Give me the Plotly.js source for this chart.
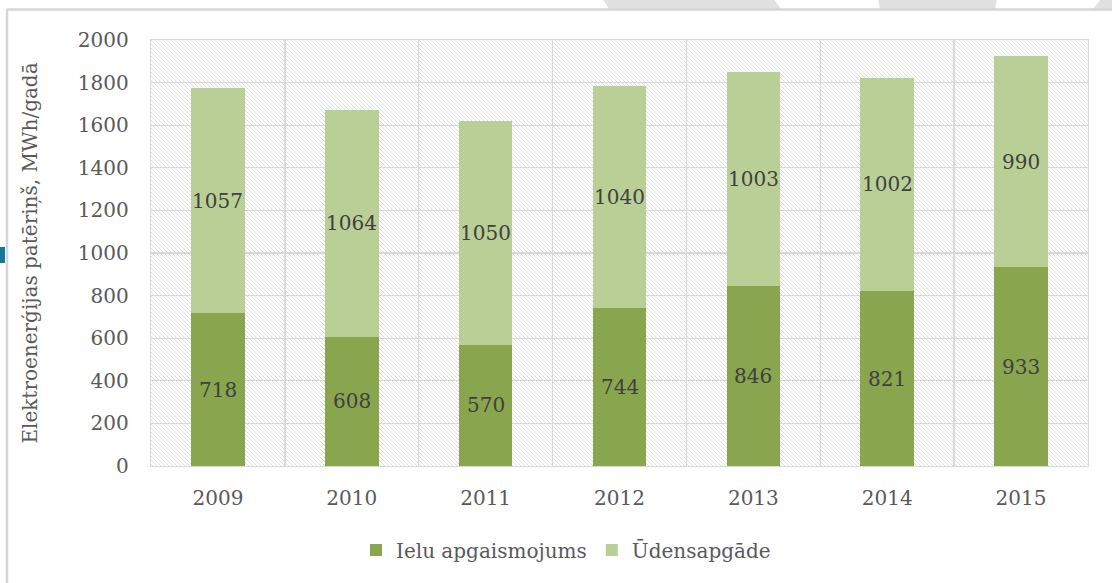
<!DOCTYPE html>
<html>
<head>
<meta charset="utf-8">
<script src="https://cdn.plot.ly/plotly-3.0.1.min.js"></script>
<style>
  html, body { margin: 0; padding: 0; background: #ffffff; }
  #wrap { position: relative; width: 1112px; height: 583px; overflow: hidden; }
  #hatch { position: absolute; left: 151px; top: 40px; width: 937px; height: 426px; background-color: #fff; }
  #chart { position: absolute; left: 0; top: 0; width: 1112px; height: 583px; }
</style>
</head>
<body>
<div id="wrap">
  <div id="hatch"></div>
  <div id="chart"></div>
</div>
<script>
const years = ['2009', '2010', '2011', '2012', '2013', '2014', '2015'];
const ielu = [718, 608, 570, 744, 846, 821, 933];
const udens = [1057, 1064, 1050, 1040, 1003, 1002, 990];
const seriesNames = ['Ielu apgaismojums', 'Ūdensapgāde'];
const yTitle = 'Elektroenerģijas patēriņš, MWh/gadā';

// hatch tile for plot background
const tile = "<svg xmlns='http://www.w3.org/2000/svg' width='4' height='4'>" +
  "<path d='M-1,-1 L5,5 M-1,3 L1,5 M3,-1 L5,1' stroke='#dedede' stroke-width='1'/></svg>";
document.getElementById('hatch').style.backgroundImage = 'url("data:image/svg+xml,' + encodeURIComponent(tile) + '")';

const FONT = 'DejaVu Serif, serif';
const ML = 151, MR = 24, MT = 40, MB = 117, W = 1112, H = 583;
const PW = W - ML - MR, PH = H - MT - MB;
const px = x => (x - ML) / PW;
const py = y => (H - MB - y) / PH;

const traces = [
  { type: 'bar', name: seriesNames[0], x: years, y: ielu,
    marker: { color: '#89a54e' }, hoverinfo: 'y' },
  { type: 'bar', name: seriesNames[1], x: years, y: udens,
    marker: { color: '#bacf96' }, hoverinfo: 'y' }
];

const annotations = [];
years.forEach((yr, i) => {
  annotations.push({ x: i, y: ielu[i] / 2, xref: 'x', yref: 'y', text: String(ielu[i]),
    showarrow: false, font: { family: FONT, size: 20, color: '#404040' } });
  annotations.push({ x: i, y: ielu[i] + udens[i] / 2, xref: 'x', yref: 'y', text: String(udens[i]),
    showarrow: false, font: { family: FONT, size: 20, color: '#404040' } });
});

const poly = pts => 'M' + pts.map(p => px(p[0]) + ',' + py(p[1])).join(' L') + ' Z';
const shapes = [
  { type: 'path', xref: 'paper', yref: 'paper', layer: 'above', line: { width: 0 }, fillcolor: '#e1e1e1',
    path: poly([[602, -2], [773, -2], [781, 9], [609, 9]]) },
  { type: 'path', xref: 'paper', yref: 'paper', layer: 'above', line: { width: 0 }, fillcolor: '#e1e1e1',
    path: poly([[878, -2], [997, -2], [995, 9], [880, 9]]) },
  { type: 'path', xref: 'paper', yref: 'paper', layer: 'above', line: { width: 0 }, fillcolor: '#e1e1e1',
    path: poly([[1102, -2], [1115, -2], [1115, 9], [1093, 9]]) },
  { type: 'line', xref: 'paper', yref: 'paper', x0: px(7), x1: px(1115), y0: py(9.5), y1: py(9.5),
    line: { color: '#d6d6d6', width: 2.5 } },
  { type: 'line', xref: 'paper', yref: 'paper', x0: px(7), x1: px(7), y0: py(9), y1: py(590),
    line: { color: '#d6d6d6', width: 2.5 } },
  { type: 'rect', xref: 'paper', yref: 'paper', x0: px(-2), x1: px(5), y0: py(247), y1: py(263),
    line: { width: 0 }, fillcolor: '#167a93' }
];

const layout = {
  width: W, height: H,
  margin: { l: ML, r: MR, t: MT, b: MB, pad: 0 },
  paper_bgcolor: 'rgba(0,0,0,0)',
  plot_bgcolor: 'rgba(0,0,0,0)',
  barmode: 'stack',
  bargap: 0.6,
  font: { family: FONT, color: '#595959', size: 20 },
  showlegend: true,
  legend: { orientation: 'h', x: px(356), xanchor: 'left', y: py(550), yanchor: 'middle',
    font: { family: FONT, size: 20, color: '#595959' }, itemwidth: 30, traceorder: 'normal',
    bgcolor: 'rgba(0,0,0,0)' },
  xaxis: { type: 'category', range: [-0.5, 6.5], autorange: false, tickson: 'boundaries',
    showgrid: true, gridcolor: '#d9d9d9', gridwidth: 1.3, tickangle: 0, automargin: false,
    showline: true, linecolor: '#d9d9d9', linewidth: 1.3, mirror: true, ticks: '',
    ticklabelstandoff: 14, tickfont: { family: FONT, size: 20, color: '#595959' }, fixedrange: true },
  yaxis: { range: [0, 2000], autorange: false, dtick: 200, tick0: 0, showgrid: true, gridcolor: '#d9d9d9', gridwidth: 1.3,
    showline: true, linecolor: '#d9d9d9', linewidth: 1.3, mirror: true, ticks: '', zeroline: false, automargin: false,
    ticklabelstandoff: 17, tickfont: { family: FONT, size: 20, color: '#595959' },
    title: { text: yTitle, standoff: 34, font: { family: FONT, size: 20, color: '#595959' } }, fixedrange: true },
  annotations: annotations,
  shapes: shapes
};

Plotly.newPlot('chart', traces, layout, { displayModeBar: false, staticPlot: true });
</script>
</body>
</html>
